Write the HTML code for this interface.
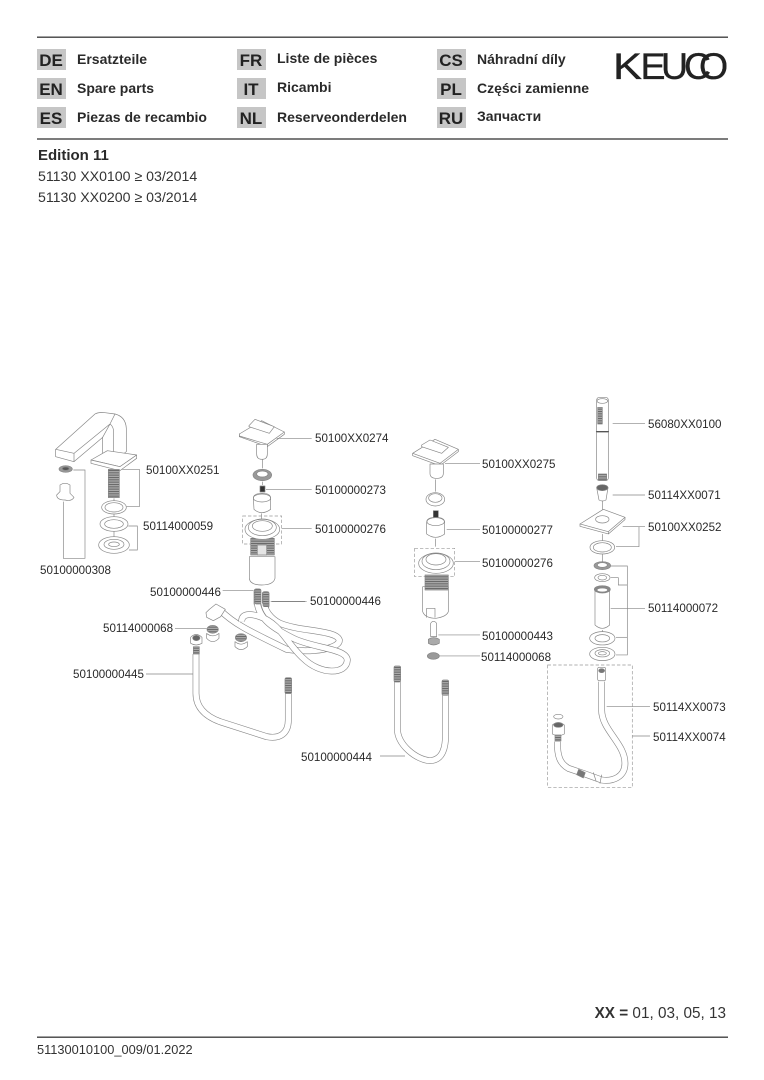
<!DOCTYPE html>
<html><head><meta charset="utf-8"><style>
html,body{margin:0;padding:0;background:#fff;width:764px;height:1080px;overflow:hidden}
svg{display:block;filter:blur(.35px)}
text{font-family:"Liberation Sans",sans-serif;fill:#2a2a2a}
.l{font-size:11.6px;fill:#333}
.h{font-size:14px;font-weight:bold;fill:#2a2a2a}
.b{font-size:17px;font-weight:bold;text-anchor:middle;fill:#222}
.t{font-size:14.15px;fill:#333}
.d{fill:none;stroke:#858585;stroke-width:2;stroke-linejoin:round;stroke-linecap:round}
.w{fill:#fff}
.ld{fill:none;stroke:#858585;stroke-width:2}
.ds{fill:none;stroke:#999;stroke-width:2;stroke-dasharray:10 6}
.ho{fill:none;stroke:#858585;stroke-width:20;stroke-linecap:butt;stroke-linejoin:round}
.hi{fill:none;stroke:#fff;stroke-width:16.4;stroke-linecap:butt;stroke-linejoin:round}
</style></head><body>
<svg width="764" height="1080" viewBox="0 0 764 1080" xmlns="http://www.w3.org/2000/svg">
<defs>
<pattern id="th" width="6" height="7" patternUnits="userSpaceOnUse"><rect width="6" height="7" fill="#aaa"/><rect width="6" height="3" fill="#666"/></pattern>
<pattern id="vs" width="7" height="6" patternUnits="userSpaceOnUse"><rect width="7" height="6" fill="#bbb"/><rect width="3" height="6" fill="#666"/></pattern>
</defs>
<rect x="37" y="36.5" width="691" height="1.4" fill="#444"/>
<rect x="37" y="138.3" width="691" height="1.4" fill="#444"/>
<rect x="37" y="1036.5" width="691" height="1.4" fill="#444"/>
<g fill="#c6c6c6">
<rect x="37" y="49" width="29" height="21"/><rect x="37" y="78" width="29" height="21"/><rect x="37" y="107" width="29" height="21"/>
<rect x="237" y="49" width="29" height="21"/><rect x="237" y="78" width="29" height="21"/><rect x="237" y="107" width="29" height="21"/>
<rect x="437" y="49" width="29" height="21"/><rect x="437" y="78" width="29" height="21"/><rect x="437" y="107" width="29" height="21"/>
</g>
<text class="b" x="51" y="66">DE</text><text class="b" x="51" y="95">EN</text><text class="b" x="51" y="124">ES</text>
<text class="b" x="251" y="66">FR</text><text class="b" x="251" y="95">IT</text><text class="b" x="251" y="124">NL</text>
<text class="b" x="451" y="66">CS</text><text class="b" x="451" y="95">PL</text><text class="b" x="451" y="124">RU</text>
<text class="h" x="77" y="64">Ersatzteile</text><text class="h" x="77" y="93">Spare parts</text><text class="h" x="77" y="122">Piezas de recambio</text>
<text class="h" x="277" y="63">Liste de pièces</text><text class="h" x="277" y="92">Ricambi</text><text class="h" x="277" y="122">Reserveonderdelen</text>
<text class="h" x="477" y="64">Náhradní díly</text><text class="h" x="477" y="93">Części zamienne</text><text class="h" x="477" y="121">Запчасти</text>
<g font-size="37.5" style="stroke:#222;stroke-width:.35">
<text x="613" y="79" textLength="29" lengthAdjust="spacingAndGlyphs" style="fill:#222">K</text>
<text x="640.5" y="79" style="fill:#222">E</text>
<text x="661" y="79" style="fill:#222">U</text>
<text x="684" y="79" style="fill:#222">C</text>
<text x="699" y="79" style="fill:#222">O</text>
</g>
<text x="38" y="160" font-size="15" font-weight="bold">Edition 11</text>
<text class="t" x="38" y="181">51130 XX0100 ≥ 03/2014</text>
<text class="t" x="38" y="202">51130 XX0200 ≥ 03/2014</text>
<text x="726" y="1018" font-size="15.3" text-anchor="end" style="fill:#333"><tspan font-weight="bold">XX =</tspan> 01, 03, 05, 13</text>
<text x="37" y="1054" font-size="12.8" style="fill:#333">51130010100_009/01.2022</text>

<g class="l">
<text x="146" y="474">50100XX0251</text><text x="143" y="530">50114000059</text><text x="40" y="574">50100000308</text>
<text x="150" y="596">50100000446</text><text x="315" y="442">50100XX0274</text><text x="315" y="494">50100000273</text>
<text x="315" y="533">50100000276</text><text x="310" y="605">50100000446</text><text x="103" y="632">50114000068</text>
<text x="73" y="678">50100000445</text><text x="301" y="761">50100000444</text>
<text x="482" y="468">50100XX0275</text><text x="482" y="534">50100000277</text><text x="482" y="567">50100000276</text>
<text x="482" y="640">50100000443</text><text x="481" y="661">50114000068</text>
<text x="648" y="428">56080XX0100</text><text x="648" y="499">50114XX0071</text><text x="648" y="531">50100XX0252</text>
<text x="648" y="612">50114000072</text><text x="653" y="711">50114XX0073</text><text x="653" y="741">50114XX0074</text>
</g>

<!-- faucet group -->
<g transform="translate(30,400) scale(.3333)">
<g class="ld">
<path d="M130 210H165V475H100V305"/><path d="M270 208H328V320H290"/><path d="M295 378H322V450H297"/>
<path d="M252 295V305M252 342V350M252 394V412"/>
</g>
<g class="d">
<path class="w" d="M77 148L195 42Q205 36 225 38L255 42Q287 50 289 85V155L270 170H218V112L132 185L77 170Z"/>
<path d="M77 148L132 160L240 72Q248 78 250 88V180M132 160V185M218 112L240 72M240 72L255 42"/>
<path class="w" d="M183 180L232 152L320 165L270 200Z"/>
<path class="w" d="M183 180V190L270 212L320 175V165L270 200Z"/>
<rect x="235" y="208" width="33" height="85" fill="url(#th)"/>
<ellipse class="w" cx="252" cy="322" rx="37" ry="20"/><ellipse cx="252" cy="322" rx="27" ry="14"/>
<ellipse class="w" cx="252" cy="372" rx="42" ry="22"/><ellipse cx="252" cy="372" rx="28" ry="13"/>
<ellipse class="w" cx="252" cy="435" rx="46" ry="25"/><ellipse cx="252" cy="433" rx="30" ry="15"/><ellipse cx="252" cy="433" rx="16" ry="7"/>
<ellipse cx="107" cy="207" rx="20" ry="10" fill="#999"/><ellipse cx="107" cy="206" rx="10" ry="5" fill="#555"/>
<path class="w" d="M90 255Q105 245 120 255V280L132 292Q125 305 105 300Q80 300 80 285L90 275Z"/>
</g>
</g>

<!-- valve 1 -->
<g transform="translate(230,410) scale(.3333)">
<g class="ld">
<path d="M140 85H245M108 238H245M155 355H245M125 575H230"/><path d="M97 148V175M97 215V225M95 310V330"/>
</g>
<rect class="ds" x="38" y="318" width="117" height="84"/>
<g class="d">
<path class="w" d="M28 72L95 32L163 66L112 103L28 78Z"/>
<path d="M28 72V80L112 110L163 73V66M112 103V110"/>
<path class="w" d="M57 47L75 28L133 50L118 70L57 50Z"/>
<path class="w" d="M80 103H112V132Q112 148 96 148Q80 148 80 132Z"/>
<ellipse cx="97" cy="195" rx="28" ry="17" fill="#999"/><ellipse class="w" cx="97" cy="192" rx="17" ry="9"/>
<rect x="90" y="228" width="15" height="18" fill="#333"/>
<path class="w" d="M70 265Q70 250 97 250Q122 250 122 265V298Q95 318 72 298Z"/>
<ellipse cx="96" cy="264" rx="26" ry="12"/>
<path class="w" d="M58 440V505Q60 525 95 525Q130 525 135 505V440Z"/>
<rect x="62" y="385" width="71" height="50" fill="url(#th)"/>
<rect x="82" y="405" width="28" height="30" fill="#e5e5e5"/>
<ellipse class="w" cx="97" cy="358" rx="52" ry="30"/><ellipse cx="97" cy="352" rx="42" ry="25"/><ellipse class="w" cx="97" cy="348" rx="30" ry="16"/>
<rect x="72" y="537" width="20" height="50" rx="6" fill="url(#th)"/>
<rect x="97" y="545" width="20" height="50" rx="6" fill="url(#th)"/>
</g>
</g>

<!-- hoses left -->
<g transform="translate(60,580) scale(.3333)">
<g class="ld"><path d="M488 32H580M345 145H440M258 282H400"/><path d="M632 64H735"/></g>
<path class="ho" d="M480 90C520 130 560 150 680 208C760 220 840 205 838 180C830 150 720 155 660 130C630 115 615 90 612 70"/>
<path class="hi" d="M480 90C520 130 560 150 680 208C760 220 840 205 838 180C830 150 720 155 660 130C630 115 615 90 612 70"/>
<path class="ho" d="M545 125C545 100 570 100 600 110C660 130 680 190 730 235C780 285 860 285 862 240C860 205 760 205 700 175C640 145 600 120 592 70"/>
<path class="hi" d="M545 125C545 100 570 100 600 110C660 130 680 190 730 235C780 285 860 285 862 240C860 205 760 205 700 175C640 145 600 120 592 70"/>
<path class="ho" d="M408 222V340C408 385 440 410 480 425L620 470C660 478 685 460 685 420V340"/>
<path class="hi" d="M408 222V340C408 385 440 410 480 425L620 470C660 478 685 460 685 420V340"/>
<g class="d">
<path class="w" d="M448 88L468 72L496 88L482 110L460 122L440 112L438 98Z"/>
<ellipse cx="458" cy="148" rx="17" ry="12" fill="url(#th)"/>
<path class="w" d="M440 160V175Q458 195 477 175V160Q458 175 440 160Z"/>
<ellipse cx="543" cy="173" rx="17" ry="12" fill="url(#th)"/>
<path class="w" d="M525 185V200Q543 218 562 200V185Q543 200 525 185Z"/>
<path class="w" d="M392 172Q408 155 426 172V190Q408 200 392 190Z"/><ellipse cx="409" cy="174" rx="11" ry="8" fill="#666"/>
<rect x="400" y="200" width="18" height="22" fill="url(#th)"/>
<rect x="675" y="293" width="20" height="48" rx="5" fill="url(#th)"/>
<rect x="585" y="27" width="18" height="45" rx="5" fill="url(#th)"/>
<rect x="609" y="35" width="18" height="45" rx="5" fill="url(#th)"/>
</g>
</g>

<!-- valve 2 -->
<g transform="translate(380,420) scale(.3333)">
<g class="ld"><path d="M195 130H300M200 328H300M225 425H300M175 645H300M170 708H300M167 178V215M167 356V380"/></g>
<rect class="ds" x="104" y="385" width="120" height="85"/>
<g class="d">
<path class="w" d="M98 100L165 58L235 88L180 130Z"/>
<path d="M98 100V107L180 137L235 95V88M180 130V137"/>
<path class="w" d="M125 75L150 60L205 82L185 100L125 80Z"/>
<path class="w" d="M150 132H190V160Q190 175 170 175Q150 175 150 160Z"/>
<ellipse class="w" cx="166" cy="238" rx="28" ry="20"/><ellipse cx="166" cy="234" rx="20" ry="13"/>
<rect x="160" y="272" width="15" height="22" fill="#333"/>
<path class="w" d="M140 307Q140 292 167 292Q194 292 194 307V342Q167 362 140 342Z"/>
<ellipse cx="167" cy="305" rx="26" ry="12"/>
<path class="w" d="M128 500V575Q135 595 168 595Q200 590 205 575V500Z"/>
<rect x="135" y="465" width="70" height="45" fill="url(#th)"/>
<path d="M140 592V565H165V592"/>
<ellipse class="w" cx="168" cy="430" rx="52" ry="30"/><ellipse cx="168" cy="424" rx="42" ry="25"/><ellipse class="w" cx="168" cy="418" rx="30" ry="17"/>
<path class="w" d="M152 610Q160 598 170 610V650H152Z"/>
<path d="M145 658Q160 648 178 658V670Q160 680 145 670Z" fill="#aaa"/>
<ellipse cx="160" cy="708" rx="18" ry="10" fill="#999"/>
</g>
</g>

<!-- shower group -->
<g transform="translate(540,390) scale(.3333)">
<g class="ld">
<path d="M218 100H315M218 315H315M248 410H315"/>
<path d="M297 410V470H228"/><path d="M212 528H262V795H228"/><path d="M212 563H235V585H262"/><path d="M228 742H262"/><path d="M212 655H315"/>
<path d="M187 332V358M187 432V452M187 492V515M187 720V725"/>
</g>
<g class="d">
<rect class="w" x="170" y="22" width="35" height="250" rx="8"/>
<path d="M170 125H205" stroke="#555" stroke-width="4"/><ellipse cx="187" cy="33" rx="16" ry="7"/>
<rect x="173" y="52" width="14" height="50" fill="url(#th)"/>
<rect x="175" y="252" width="25" height="18" fill="url(#th)"/>
<path class="w" d="M170 293L177 330Q187 336 198 330L204 293Z"/>
<ellipse cx="187" cy="293" rx="17" ry="9" fill="#666"/>
<path class="w" d="M120 402L190 358L255 382L205 425Z"/>
<path d="M120 402V409L205 432L255 389V382M205 425V432"/>
<ellipse cx="187" cy="388" rx="20" ry="11"/>
<ellipse class="w" cx="187" cy="472" rx="37" ry="20"/><ellipse cx="187" cy="472" rx="27" ry="14"/>
<ellipse cx="187" cy="527" rx="25" ry="12" fill="#999"/><ellipse class="w" cx="187" cy="525" rx="15" ry="7"/>
<ellipse class="w" cx="187" cy="563" rx="23" ry="12"/><ellipse cx="187" cy="563" rx="13" ry="7"/>
<path class="w" d="M165 600V705Q187 725 209 705V600Z"/>
<ellipse cx="187" cy="598" rx="24" ry="11" fill="#888"/><ellipse class="w" cx="187" cy="600" rx="16" ry="6"/>
<ellipse class="w" cx="187" cy="745" rx="38" ry="20"/><ellipse cx="187" cy="745" rx="22" ry="11"/>
<ellipse class="w" cx="187" cy="792" rx="38" ry="20"/><ellipse cx="187" cy="790" rx="22" ry="11"/><ellipse cx="187" cy="790" rx="12" ry="5"/>
</g>
</g>

<!-- bottom right hoses -->
<g transform="translate(380,660) scale(.3333)">
<g class="ld"><path d="M680 140H810M757 228H810M0 288H75"/></g>
<rect class="ds" x="503" y="15" width="254" height="367"/>
<path class="ho" d="M52 65V205C52 255 110 300 150 302C190 300 197 260 197 220V105"/>
<path class="hi" d="M52 65V205C52 255 110 300 150 302C190 300 197 260 197 220V105"/>
<path class="ho" d="M665 65V150C665 210 735 250 735 310C735 350 700 365 665 360L615 342L565 325C540 310 532 290 532 245"/>
<path class="hi" d="M665 65V150C665 210 735 250 735 310C735 350 700 365 665 360L615 342L565 325C540 310 532 290 532 245"/>
<g class="d">
<rect x="42" y="18" width="20" height="48" rx="5" fill="url(#th)"/>
<rect x="186" y="60" width="20" height="46" rx="5" fill="url(#th)"/>
<rect class="w" x="653" y="22" width="24" height="40" rx="5"/><ellipse cx="665" cy="32" rx="9" ry="6" fill="#777"/>
<ellipse cx="535" cy="170" rx="14" ry="7"/>
<path class="w" d="M517 195Q535 180 553 195V222Q535 232 517 222Z"/><ellipse cx="535" cy="195" rx="14" ry="7" fill="#666"/>
<rect x="525" y="225" width="18" height="18" fill="url(#th)"/>
<path d="M596 328L616 338L610 354L590 344Z" fill="#777"/>
<path d="M640 338L648 362M665 345L660 370"/>
</g>
</g>
</svg>
</body></html>
